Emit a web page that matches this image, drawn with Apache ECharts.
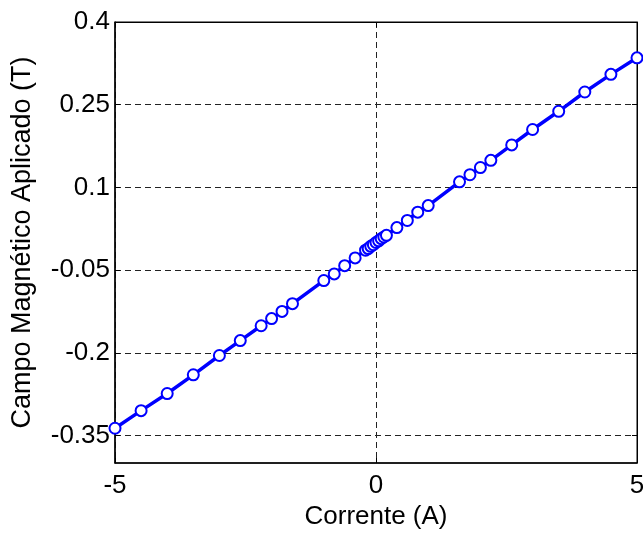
<!DOCTYPE html>
<html>
<head>
<meta charset="utf-8">
<script src="https://cdn.jsdelivr.net/npm/echarts@6/dist/echarts.min.js"></script>
<style>
  html, body { margin: 0; padding: 0; background: #fff; }
  #chart { width: 643px; height: 533px; }
</style>
</head>
<body>
<div id="chart"></div>
<script>
// corrente (A)
var corrente = [-5, -4.5, -4, -3.5, -3, -2.6, -2.2, -2, -1.8, -1.6, -1, -0.8, -0.6, -0.4,
  -0.2, -0.15, -0.1, -0.05, 0, 0.05, 0.1, 0.15, 0.2, 0.4, 0.6, 0.8, 1,
  1.6, 1.8, 2, 2.2, 2.6, 3, 3.5, 4, 4.5, 5];
// campo magnetico (T)
var campo = [-0.337, -0.305, -0.274, -0.240, -0.205, -0.178, -0.151, -0.138, -0.125, -0.111,
  -0.069, -0.057, -0.042, -0.028, -0.014, -0.011, -0.007, -0.004, 0.0, 0.003, 0.007, 0.010,
  0.013, 0.027, 0.040, 0.055, 0.067, 0.110, 0.123, 0.136, 0.149, 0.177, 0.205, 0.238,
  0.273, 0.305, 0.335];
var xTicks = [-5, 0, 5];
var yTicks = [-0.35, -0.2, -0.05, 0.1, 0.25, 0.4];

var font = "'Liberation Sans', Arial, sans-serif";
var chart = echarts.init(document.getElementById("chart"));

var points = corrente.map(function (x, i) { return [x, campo[i]]; });

var option = {
  animation: false,
  backgroundColor: "#fff",
  grid: {
    left: 115, right: 6, top: 22, bottom: 70,
    outerBoundsMode: "none",
    show: true, borderColor: "#000", borderWidth: 1, backgroundColor: "#fff"
  },
  xAxis: [
    {
      type: "value", min: -5, max: 5, position: "bottom",
      name: "Corrente (A)", nameLocation: "middle", nameGap: 41,
      nameTextStyle: { fontFamily: font, fontSize: 26, color: "#000" },
      axisLine: { show: true, onZero: false, lineStyle: { color: "#000", width: 1.5 } },
      axisTick: { show: true, inside: true, length: 5, customValues: xTicks, lineStyle: { color: "#000" } },
      axisLabel: { customValues: xTicks, margin: 10, fontFamily: font, fontSize: 26, color: "#000" },
      splitLine: { show: true, lineStyle: { color: "#222", type: [6, 4], width: 1 } }
    },
    {
      type: "value", min: -5, max: 5, position: "top",
      axisLine: { show: true, onZero: false, lineStyle: { color: "#000" } },
      axisTick: { show: true, inside: true, length: 5, customValues: xTicks, lineStyle: { color: "#000" } },
      axisLabel: { show: false },
      splitLine: { show: false }
    }
  ],
  yAxis: [
    {
      type: "value", min: -0.4, max: 0.4, position: "left",
      name: "Campo Magnético Aplicado (T)", nameLocation: "middle", nameGap: 79,
      nameTextStyle: { fontFamily: font, fontSize: 27, color: "#000" },
      axisLine: { show: true, onZero: false, lineStyle: { color: "#000", width: 1.5 } },
      axisTick: { show: true, inside: true, length: 5, customValues: yTicks, lineStyle: { color: "#000" } },
      axisLabel: {
        customValues: yTicks, margin: 5, fontFamily: font, fontSize: 26, color: "#000",
        formatter: function (v) { return String(Math.round(v * 100) / 100); }
      },
      splitLine: { show: true, lineStyle: { color: "#222", type: [6, 4], width: 1 } }
    },
    {
      type: "value", min: -0.4, max: 0.4, position: "right",
      axisLine: { show: true, onZero: false, lineStyle: { color: "#000" } },
      axisTick: { show: true, inside: true, length: 5, customValues: yTicks, lineStyle: { color: "#000" } },
      axisLabel: { show: false },
      splitLine: { show: false }
    }
  ],
  series: [
    {
      type: "line",
      data: points,
      xAxisIndex: 0,
      yAxisIndex: 0,
      symbol: "emptyCircle",
      symbolSize: 11,
      showAllSymbol: true,
      lineStyle: { color: "#0000ff", width: 3.5 },
      itemStyle: { color: "#0000ff", borderColor: "#0000ff", borderWidth: 3 }
    }
  ]
};

chart.setOption(option);
</script>
</body>
</html>
